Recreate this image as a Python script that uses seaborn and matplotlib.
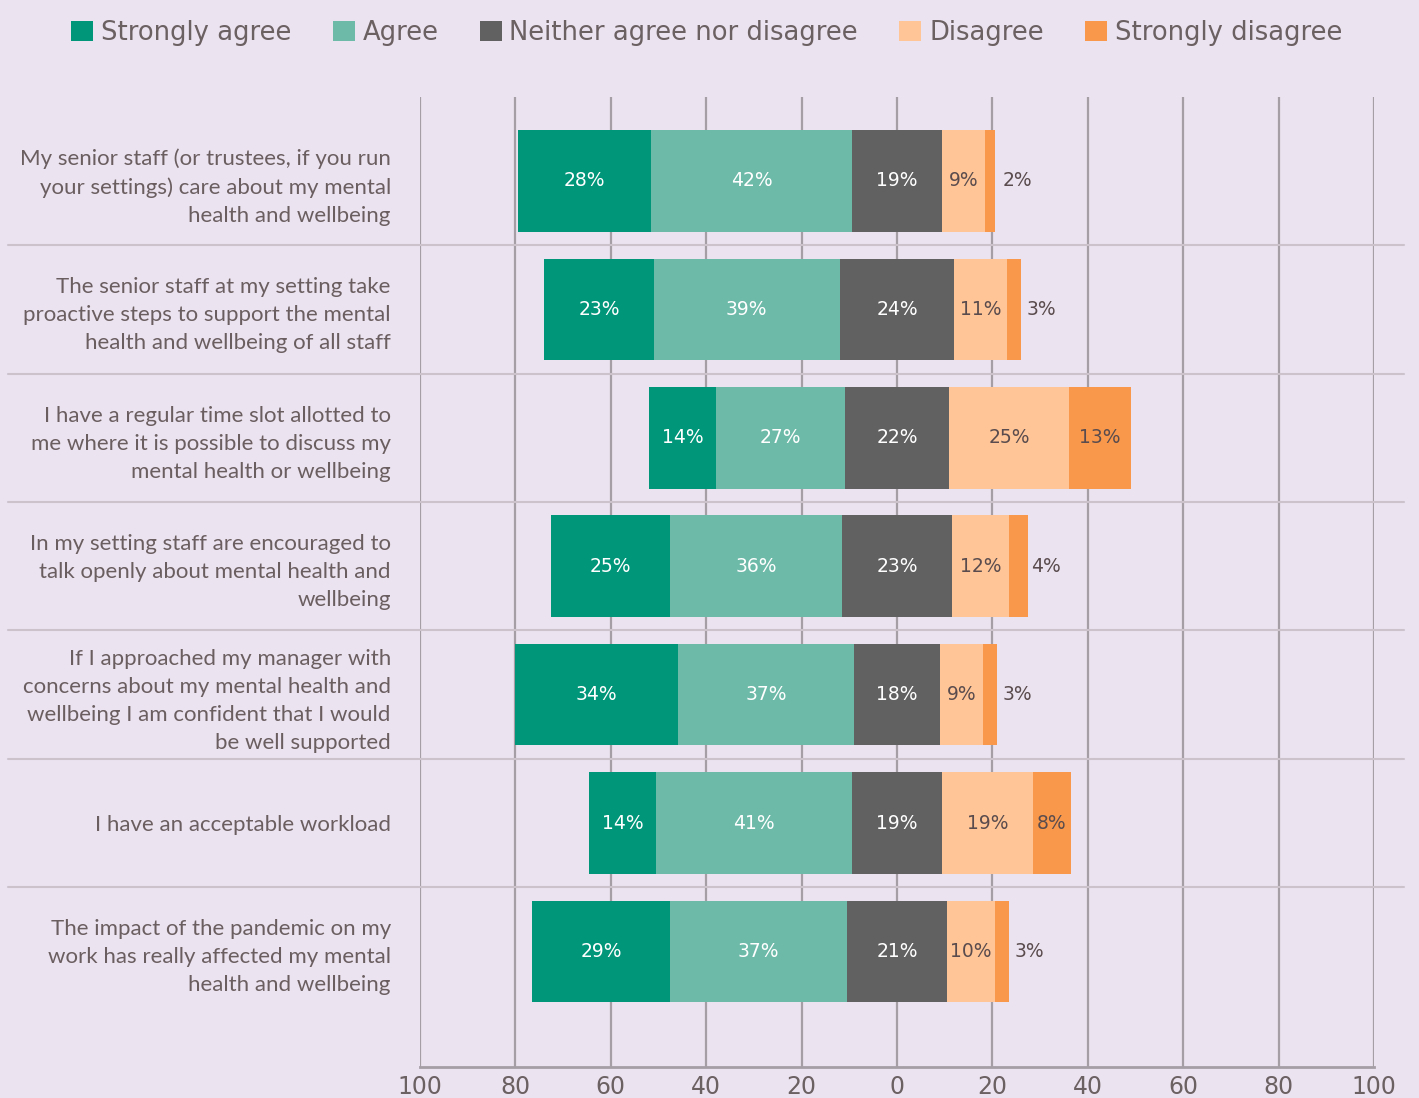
import matplotlib
matplotlib.use("Agg")
import matplotlib.pyplot as plt
import seaborn as sns
import pandas as pd
import numpy as np
from matplotlib.patches import Patch

statements = [
    "My senior staff (or trustees, if you run\nyour settings) care about my mental\nhealth and wellbeing",
    "The senior staff at my setting take\nproactive steps to support the mental\nhealth and wellbeing of all staff",
    "I have a regular time slot allotted to\nme where it is possible to discuss my\nmental health or wellbeing",
    "In my setting staff are encouraged to\ntalk openly about mental health and\nwellbeing",
    "If I approached my manager with\nconcerns about my mental health and\nwellbeing I am confident that I would\nbe well supported",
    "I have an acceptable workload",
    "The impact of the pandemic on my\nwork has really affected my mental\nhealth and wellbeing",
]
strongly_agree = [28, 23, 14, 25, 34, 14, 29]
agree = [42, 39, 27, 36, 37, 41, 37]
neither = [19, 24, 22, 23, 18, 19, 21]
disagree = [9, 11, 25, 12, 9, 19, 10]
strongly_disagree = [2, 3, 13, 4, 3, 8, 3]
categories = ["Strongly agree", "Agree", "Neither agree nor disagree", "Disagree", "Strongly disagree"]
tick_values = [-100, -80, -60, -40, -20, 0, 20, 40, 60, 80, 100]
tick_labels = ["100", "80", "60", "40", "20", "0", "20", "40", "60", "80", "100"]

colors = ["#00967A", "#6DBAA9", "#616161", "#FFC596", "#F9984A"]
bg = "#EBE3EF"
text_col = "#6B6062"

sns.set_theme(style="white")
plt.rcParams["font.family"] = ["Lato", "DejaVu Sans"]

sa = np.array(strongly_agree, float)
ag = np.array(agree, float)
ne = np.array(neither, float)
di = np.array(disagree, float)
sd = np.array(strongly_disagree, float)

df = pd.DataFrame({
    "statement": statements,
    "neg_sa": -(sa + ag + ne / 2),
    "neg_a": -(ag + ne / 2),
    "neg_n": -(ne / 2),
    "pos_sd": ne / 2 + di + sd,
    "pos_d": ne / 2 + di,
    "pos_n": ne / 2,
})

fig = plt.figure(figsize=(14.19, 10.98), dpi=100, facecolor=bg)
ax = fig.add_axes([420 / 1419, 1 - 1067 / 1098, 954 / 1419, (1067 - 97) / 1098])
ax.set_facecolor(bg)

layers = [("neg_sa", colors[0]), ("neg_a", colors[1]), ("neg_n", colors[2]),
          ("pos_sd", colors[4]), ("pos_d", colors[3]), ("pos_n", colors[2])]
for col, c in layers:
    sns.barplot(data=df, x=col, y="statement", orient="h", color=c, width=0.79,
                saturation=1, ax=ax, zorder=3, linewidth=0)

vfont = dict(fontsize=13.5, family="DejaVu Sans", zorder=5, ha="center", va="center")
for i in range(len(statements)):
    left = -(sa[i] + ag[i] + ne[i] / 2)
    ax.text(left + sa[i] / 2, i, f"{int(sa[i])}%", color="white", **vfont)
    ax.text(left + sa[i] + ag[i] / 2, i, f"{int(ag[i])}%", color="white", **vfont)
    ax.text(0, i, f"{int(ne[i])}%", color="white", **vfont)
    ax.text(ne[i] / 2 + di[i] / 2, i, f"{int(di[i])}%", color="#5A4C4E", **vfont)
    sd_center = ne[i] / 2 + di[i] + sd[i] / 2
    xpos = sd_center if sd[i] >= 6 else sd_center + 5.7
    ax.text(xpos, i, f"{int(sd[i])}%", color="#5A4C4E", **vfont)

ax.set_xlim(-100, 100)
ax.set_ylim(6.9, -0.654)
ax.set_xticks(tick_values)
ax.set_xticklabels(tick_labels)
ax.set_xlabel("")
ax.set_ylabel("")
for v in tick_values:
    ax.axvline(v, color="#A59EA5", lw=1.6, zorder=1)
for i in range(len(statements) - 1):
    ax.axhline(i + 0.5, xmin=-0.432, xmax=1.031, color="#CBC2CC", lw=1.5,
               clip_on=False, zorder=1)

for s in ["top", "right", "left"]:
    ax.spines[s].set_visible(False)
ax.spines["bottom"].set_color("#A59EA5")
ax.spines["bottom"].set_linewidth(2)
ax.tick_params(axis="x", length=0, pad=6, labelsize=17, labelcolor=text_col)
ax.tick_params(axis="y", length=0, pad=21, labelsize=16, labelcolor="#6A5E60")
for lab in ax.get_yticklabels():
    lab.set_multialignment("right")
    lab.set_linespacing(1.5)
for lab in ax.get_xticklabels():
    lab.set_family("DejaVu Sans")

handles = [Patch(facecolor=c, edgecolor="none", label=l) for c, l in zip(colors, categories)]
leg = fig.legend(handles=handles, loc="center", bbox_to_anchor=(0.498, 0.97), ncol=5,
                 frameon=False, handlelength=0.85, handleheight=0.85,
                 handletextpad=0.3, columnspacing=1.6, labelcolor=text_col,
                 prop={"family": "DejaVu Sans", "size": 18.6})

fig.savefig("out.png", dpi=100, facecolor=bg)
